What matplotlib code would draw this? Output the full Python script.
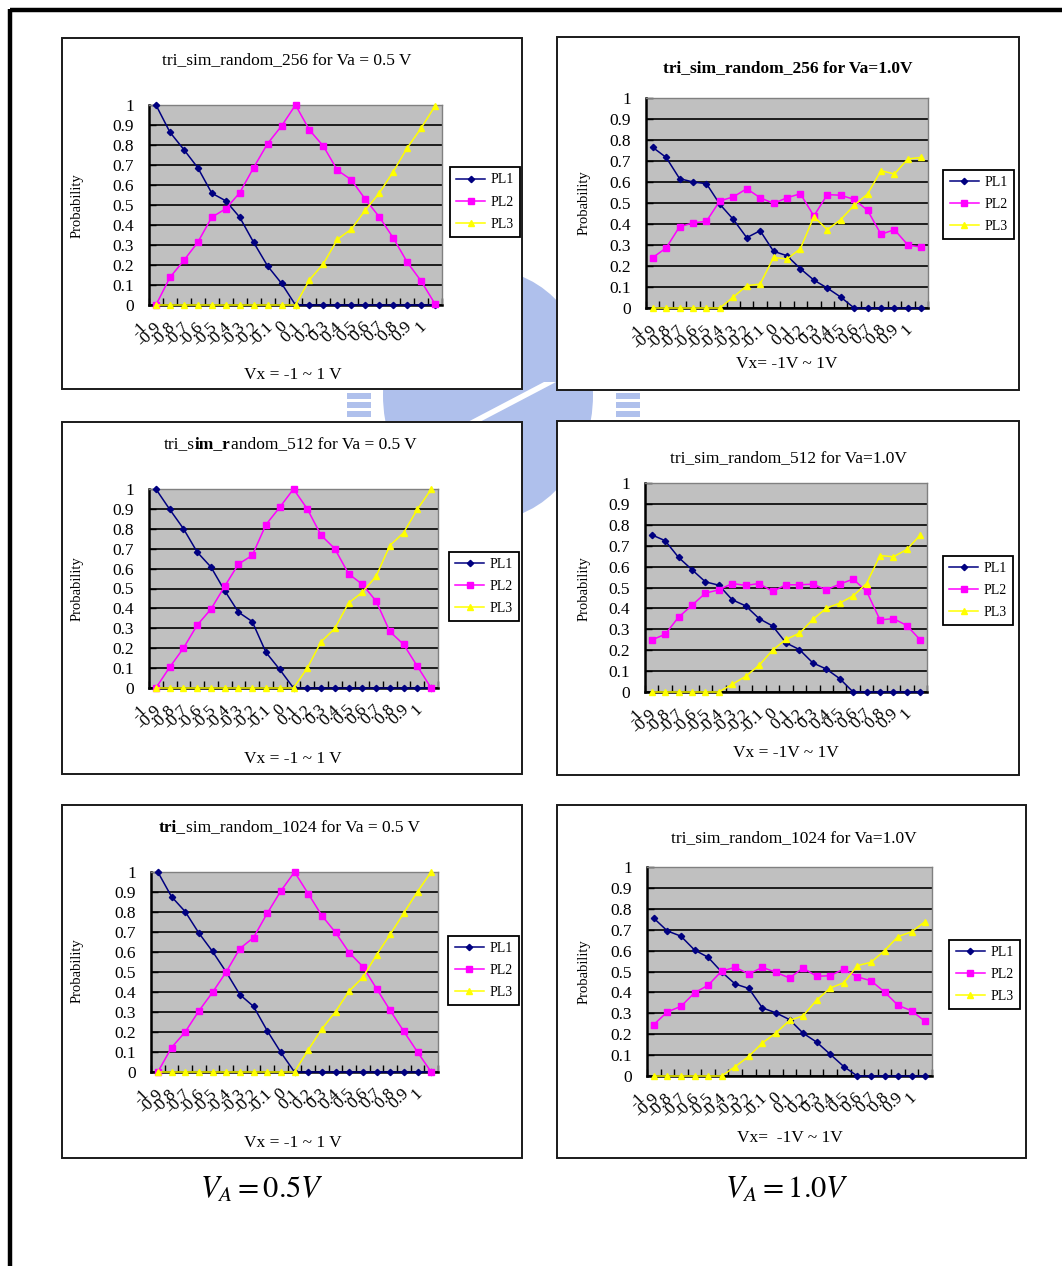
import numpy as np
import matplotlib
matplotlib.use("Agg")
import matplotlib.pyplot as plt
from matplotlib.patches import Rectangle, Circle, Polygon
from matplotlib.lines import Line2D
from matplotlib.transforms import ScaledTranslation

plt.rcParams['font.family'] = ['Liberation Serif', 'DejaVu Serif']
plt.rcParams['mathtext.fontset'] = 'stix'

# ---------------------------------------------------------------- data
vx_labels = ['-1', '-0.9', '-0.8', '-0.7', '-0.6', '-0.5', '-0.4', '-0.3', '-0.2', '-0.1',
             '0', '0.1', '0.2', '0.3', '0.4', '0.5', '0.6', '0.7', '0.8', '0.9', '1']
prob_ticks = [0, 0.1, 0.2, 0.3, 0.4, 0.5, 0.6, 0.7, 0.8, 0.9, 1.0]
prob_tick_labels = ['0', '0.1', '0.2', '0.3', '0.4', '0.5', '0.6', '0.7', '0.8', '0.9', '1']
series_names = ['PL1', 'PL2', 'PL3']

# 256 samples, Va = 0.5 V
pl1_256_05 = [1.0, 0.864, 0.777, 0.686, 0.559, 0.521, 0.439, 0.313, 0.195, 0.108, 0,
              0, 0, 0, 0, 0, 0, 0, 0, 0, 0]
pl2_256_05 = [0, 0.138, 0.223, 0.314, 0.439, 0.481, 0.561, 0.687, 0.807, 0.895, 1.0,
              0.875, 0.794, 0.674, 0.626, 0.529, 0.441, 0.336, 0.215, 0.120, 0.005]
pl3_256_05 = [0, 0, 0, 0, 0, 0, 0, 0, 0, 0, 0,
              0.126, 0.206, 0.328, 0.379, 0.474, 0.559, 0.666, 0.785, 0.884, 0.995]

# 256 samples, Va = 1.0 V
pl1_256_10 = [0.765, 0.717, 0.616, 0.600, 0.592, 0.494, 0.422, 0.335, 0.368, 0.270, 0.249,
              0.187, 0.133, 0.095, 0.052, 0, 0, 0, 0, 0, 0]
pl2_256_10 = [0.240, 0.286, 0.387, 0.405, 0.413, 0.510, 0.529, 0.568, 0.525, 0.498, 0.525,
              0.544, 0.438, 0.540, 0.537, 0.517, 0.465, 0.351, 0.373, 0.300, 0.290]
pl3_256_10 = [0, 0, 0, 0, 0, 0, 0.052, 0.106, 0.114, 0.241, 0.233,
              0.283, 0.435, 0.373, 0.421, 0.489, 0.543, 0.654, 0.638, 0.710, 0.717]

# 512 samples, Va = 0.5 V
pl1_512_05 = [1.0, 0.898, 0.801, 0.683, 0.608, 0.489, 0.381, 0.334, 0.179, 0.093, 0,
              0, 0, 0, 0, 0, 0, 0, 0, 0, 0]
pl2_512_05 = [0, 0.104, 0.200, 0.316, 0.396, 0.511, 0.623, 0.666, 0.821, 0.908, 1.0,
              0.900, 0.768, 0.700, 0.574, 0.521, 0.437, 0.284, 0.219, 0.109, 0]
pl3_512_05 = [0, 0, 0, 0, 0, 0, 0, 0, 0, 0, 0,
              0.100, 0.232, 0.299, 0.427, 0.481, 0.561, 0.716, 0.780, 0.898, 0.998]

# 512 samples, Va = 1.0 V
pl1_512_10 = [0.752, 0.724, 0.644, 0.585, 0.527, 0.511, 0.441, 0.412, 0.351, 0.316, 0.235,
              0.203, 0.139, 0.110, 0.064, 0, 0, 0, 0, 0, 0]
pl2_512_10 = [0.249, 0.276, 0.358, 0.415, 0.473, 0.489, 0.519, 0.510, 0.519, 0.481, 0.513,
              0.513, 0.516, 0.489, 0.516, 0.540, 0.482, 0.345, 0.351, 0.318, 0.249]
pl3_512_10 = [0, 0, 0, 0, 0, 0, 0.037, 0.075, 0.128, 0.200, 0.252,
              0.281, 0.347, 0.401, 0.425, 0.460, 0.519, 0.653, 0.647, 0.682, 0.751]

# 1024 samples, Va = 0.5 V
pl1_1024_05 = [1.0, 0.877, 0.802, 0.695, 0.603, 0.500, 0.387, 0.328, 0.207, 0.098, 0,
               0, 0, 0, 0, 0, 0, 0, 0, 0, 0]
pl2_1024_05 = [0, 0.122, 0.200, 0.305, 0.398, 0.500, 0.617, 0.672, 0.793, 0.905, 1.0,
               0.892, 0.782, 0.698, 0.597, 0.527, 0.417, 0.308, 0.203, 0.100, 0]
pl3_1024_05 = [0, 0, 0, 0, 0, 0, 0, 0, 0, 0, 0,
               0.110, 0.215, 0.302, 0.405, 0.473, 0.585, 0.688, 0.795, 0.902, 1.0]

# 1024 samples, Va = 1.0 V
pl1_1024_10 = [0.755, 0.694, 0.669, 0.603, 0.568, 0.498, 0.440, 0.419, 0.326, 0.302, 0.270,
               0.205, 0.162, 0.104, 0.045, 0, 0, 0, 0, 0, 0]
pl2_1024_10 = [0.246, 0.307, 0.333, 0.398, 0.434, 0.502, 0.520, 0.488, 0.520, 0.496, 0.469,
               0.517, 0.477, 0.480, 0.512, 0.474, 0.456, 0.402, 0.338, 0.312, 0.261]
pl3_1024_10 = [0, 0, 0, 0, 0, 0, 0.045, 0.094, 0.158, 0.206, 0.266,
               0.288, 0.363, 0.421, 0.446, 0.528, 0.544, 0.600, 0.667, 0.690, 0.739]

# titles as (text, bold) runs
titles = [
    [('tri_sim_random_256 for Va = 0.5 V', False)],
    [('tri_sim_random_256 for Va=1.0V', True)],
    [('tri_s', False), ('im_r', True), ('andom_512 for Va = 0.5 V', False)],
    [('tri_sim_random_512 for Va=1.0V', False)],
    [('tri_', True), ('sim_random_1024 for Va = 0.5 V', False)],
    [('tri_sim_random_1024 for Va=1.0V', False)],
]
xlabels = ['Vx = -1 ~ 1 V', 'Vx= -1V ~ 1V',
           'Vx = -1 ~ 1 V', 'Vx = -1V ~ 1V',
           'Vx = -1 ~ 1 V', 'Vx=  -1V ~ 1V']
ylabel = 'Probability'
panel_series = [
    (pl1_256_05, pl2_256_05, pl3_256_05),
    (pl1_256_10, pl2_256_10, pl3_256_10),
    (pl1_512_05, pl2_512_05, pl3_512_05),
    (pl1_512_10, pl2_512_10, pl3_512_10),
    (pl1_1024_05, pl2_1024_05, pl3_1024_05),
    (pl1_1024_10, pl2_1024_10, pl3_1024_10),
]
column_captions = [r'$V_A = 0.5V$', r'$V_A = 1.0V$']

# ---------------------------------------------------------------- layout (pixels)
W, H = 1062, 1266
layout = [
    dict(box=(62, 38, 522, 389), plot=(149, 105, 442, 305), leg=(453, 166, 517, 238),
         title=(287, 60), xl=(293, 375), yl=(77, 206)),
    dict(box=(557, 37, 1019, 390), plot=(646, 98, 928, 308), leg=(943, 174, 1014, 235),
         title=(788, 68), xl=(787, 364), yl=(584, 203)),
    dict(box=(62, 422, 522, 774), plot=(149, 489, 438, 688), leg=(451, 554, 517, 619),
         title=(290, 444), xl=(293, 759), yl=(77, 589)),
    dict(box=(557, 421, 1019, 775), plot=(645, 483, 927, 692), leg=(942, 560, 1014, 621),
         title=(788, 458), xl=(786, 753), yl=(584, 589)),
    dict(box=(62, 805, 522, 1158), plot=(151, 872, 438, 1072), leg=(450, 938, 517, 1003),
         title=(289, 827), xl=(293, 1143), yl=(77, 971)),
    dict(box=(557, 805, 1026, 1158), plot=(647, 867, 932, 1076), leg=(948, 944, 1021, 1005),
         title=(794, 838), xl=(790, 1138), yl=(584, 972)),
]
caption_pos = [(262, 1190), (787, 1190)]

styles = [dict(color='#000080', marker='D', ms=3.2),
          dict(color='#ff00ff', marker='s', ms=3.8),
          dict(color='#ffff00', marker='^', ms=4.6)]


def fx(x):
    return x / W


def fy(y):
    return 1 - y / H


def frect(x0, y0, x1, y1):
    return [x0 / W, 1 - y1 / H, (x1 - x0) / W, (y1 - y0) / H]


fig = plt.figure(figsize=(W / 100, H / 100), dpi=100)
fig.patch.set_facecolor('white')
renderer = fig.canvas.get_renderer()


def run_text(cx, cy, runs, size):
    """Centred line of text made of runs with differing weights (pixel coords)."""
    pieces = [fig.text(0, fy(cy), s, ha='left', va='center', fontsize=size,
                       fontweight='bold' if b else 'normal') for s, b in runs]
    widths = [p.get_window_extent(renderer).width for p in pieces]
    x = cx - sum(widths) / 2
    for p, w in zip(pieces, widths):
        p.set_x(fx(x))
        x += w


# faint emblem behind the panels
wm = '#afc0ec'
fig.add_artist(Circle((fx(488), fy(395)), 105 / W, transform=fig.transFigure,
                      facecolor=wm, edgecolor='none', zorder=-3))
fig.add_artist(Polygon([(fx(462), fy(425)), (fx(474), fy(425)), (fx(556), fy(382)), (fx(544), fy(382))],
                       closed=True, transform=fig.transFigure, facecolor='white',
                       edgecolor='none', zorder=-3))
for x0 in (347, 616):
    for k in range(3):
        fig.add_artist(Rectangle((fx(x0), fy(393 + 9 * k + 6)), 24 / W, 6 / H,
                                 transform=fig.transFigure, facecolor=wm,
                                 edgecolor='none', zorder=-3))

# outer frame of the page
fig.add_artist(Line2D([fx(10), fx(1062)], [fy(10), fy(10)], transform=fig.transFigure,
                      color='black', lw=3.2, solid_capstyle='butt'))
fig.add_artist(Line2D([fx(10), fx(10)], [fy(8.5), fy(1266)], transform=fig.transFigure,
                      color='black', lw=3.2, solid_capstyle='butt'))

x = np.arange(len(vx_labels))
for lay, title, xlab, series in zip(layout, titles, xlabels, panel_series):
    bx0, by0, bx1, by1 = lay['box']
    fig.add_artist(Rectangle((fx(bx0), fy(by1)), (bx1 - bx0) / W, (by1 - by0) / H,
                             transform=fig.transFigure, facecolor='white',
                             edgecolor='#1a1a1a', lw=1.4, zorder=-2))

    ax = fig.add_axes(frect(*lay['plot']))
    ax.set_facecolor('#c0c0c0')
    for vals, name, st in zip(series, series_names, styles):
        ax.plot(x, vals, color=st['color'], marker=st['marker'], ms=st['ms'],
                mec=st['color'], mfc=st['color'], lw=1.1, label=name,
                clip_on=False, zorder=3)

    ax.set_xlim(-0.5, len(vx_labels) - 0.5)
    ax.set_ylim(0, 1)
    ax.set_yticks(prob_ticks)
    ax.set_yticklabels(prob_tick_labels)
    ax.set_xticks(x)
    ax.set_xticklabels(vx_labels, rotation=45, ha='right', va='center',
                       rotation_mode='anchor')
    ax.set_xticks(np.arange(-0.5, len(vx_labels), 1.0), minor=True)
    ax.tick_params(axis='x', which='major', length=0, pad=14, labelsize=12.5)
    ax.tick_params(axis='x', which='minor', direction='in', length=5, width=1,
                   color='black')
    ax.tick_params(axis='y', direction='in', length=5, width=1, color='black',
                   pad=11, labelsize=12.5)
    shift = ScaledTranslation(-11 / 100, 0, fig.dpi_scale_trans)
    for lbl in ax.get_xticklabels():
        lbl.set_transform(lbl.get_transform() + shift)

    ax.grid(axis='y', color='black', lw=1.2)
    ax.set_axisbelow(True)
    for side in ('left', 'bottom'):
        ax.spines[side].set_color('black')
        ax.spines[side].set_linewidth(1.8)
    for side in ('top', 'right'):
        ax.spines[side].set_color('#808080')
        ax.spines[side].set_linewidth(1.0)

    lx0, ly0, lx1, ly1 = lay['leg']
    leg = ax.legend(loc='center', bbox_to_anchor=(fx((lx0 + lx1) / 2), fy((ly0 + ly1) / 2)),
                    bbox_transform=fig.transFigure, frameon=True, fancybox=False,
                    edgecolor='black', fontsize=10, handlelength=2.1,
                    handletextpad=0.4, labelspacing=0.65, borderpad=0.45,
                    borderaxespad=0, framealpha=1)
    leg.get_frame().set_linewidth(1.3)

    run_text(lay['title'][0], lay['title'][1], title, 12.5)
    fig.text(fx(lay['xl'][0]), fy(lay['xl'][1]), xlab, ha='center', va='center',
             fontsize=12.5)
    fig.text(fx(lay['yl'][0]), fy(lay['yl'][1]), ylabel, ha='center', va='center',
             fontsize=10.5, rotation=90)

for cap, (cx, cy) in zip(column_captions, caption_pos):
    fig.text(fx(cx), fy(cy), cap, ha='center', va='center', fontsize=22)

fig.savefig('out.png', dpi=100)
